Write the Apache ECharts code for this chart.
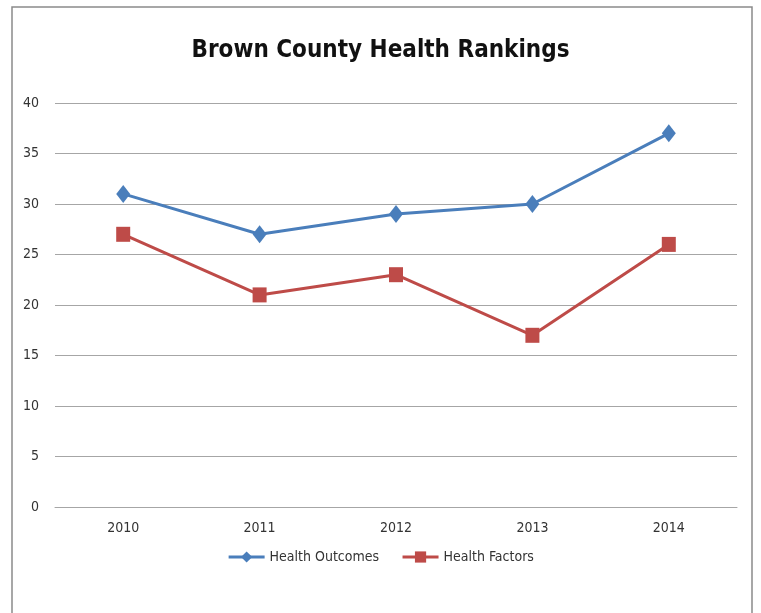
<!DOCTYPE html>
<html>
<head>
<meta charset="utf-8">
<script src="https://cdn.jsdelivr.net/npm/echarts@6/dist/echarts.min.js"></script>
<style>
  html, body { margin: 0; padding: 0; background: #fff; }
  #chart { width: 761px; height: 613px; }
</style>
</head>
<body>
<div id="chart"></div>
<script>
// Datos del gráfico
const years = ['2010', '2011', '2012', '2013', '2014'];
const healthOutcomes = [31, 27, 29, 30, 37];
const healthFactors = [27, 21, 23, 17, 26];

const font = '"Liberation Sans Narrow", "DejaVu Sans Condensed", sans-serif';

const chart = echarts.init(document.getElementById('chart'));

const option = {
    backgroundColor: '#fff',
    animation: false,
    title: {
        text: 'Brown County Health Rankings',
        left: 'center',
        top: 34,
        textStyle: { fontFamily: font, fontSize: 24, fontWeight: 'bold', color: '#111' }
    },
    graphic: [{
        type: 'rect',
        shape: { x: 12, y: 7, width: 740, height: 620 },
        style: { fill: 'none', stroke: '#8a8a8a', lineWidth: 1.5 },
        silent: true
    }],
    legend: {
        bottom: 44,
        left: 'center',
        itemWidth: 36,
        itemHeight: 14,
        itemGap: 22,
        lineStyle: { width: 3 },
        textStyle: { fontFamily: font, fontSize: 14, color: '#333' },
        data: ['Health Outcomes', 'Health Factors']
    },
    grid: { left: 55, right: 24, top: 103, bottom: 106 },
    xAxis: {
        type: 'category',
        data: years,
        boundaryGap: true,
        axisLine: { lineStyle: { color: '#a6a6a6' } },
        axisTick: { show: false },
        axisLabel: { fontFamily: font, fontSize: 14, color: '#333', margin: 14 }
    },
    yAxis: {
        type: 'value',
        min: 0,
        max: 40,
        interval: 5,
        axisLine: { show: false },
        axisTick: { show: false },
        axisLabel: { fontFamily: font, fontSize: 14, color: '#333', margin: 16 },
        splitLine: { lineStyle: { color: '#a6a6a6', width: 1 } }
    },
    series: [
        {
            name: 'Health Outcomes',
            type: 'line',
            data: healthOutcomes,
            symbol: 'diamond',
            symbolSize: [14, 18],
            color: '#4a7ebb',
            lineStyle: { width: 3, color: '#4a7ebb' },
            itemStyle: { color: '#4a7ebb' }
        },
        {
            name: 'Health Factors',
            type: 'line',
            data: healthFactors,
            symbol: 'rect',
            symbolSize: [14, 15],
            color: '#be4b48',
            lineStyle: { width: 3, color: '#be4b48' },
            itemStyle: { color: '#be4b48' }
        }
    ]
};

chart.setOption(option);
</script>
</body>
</html>
